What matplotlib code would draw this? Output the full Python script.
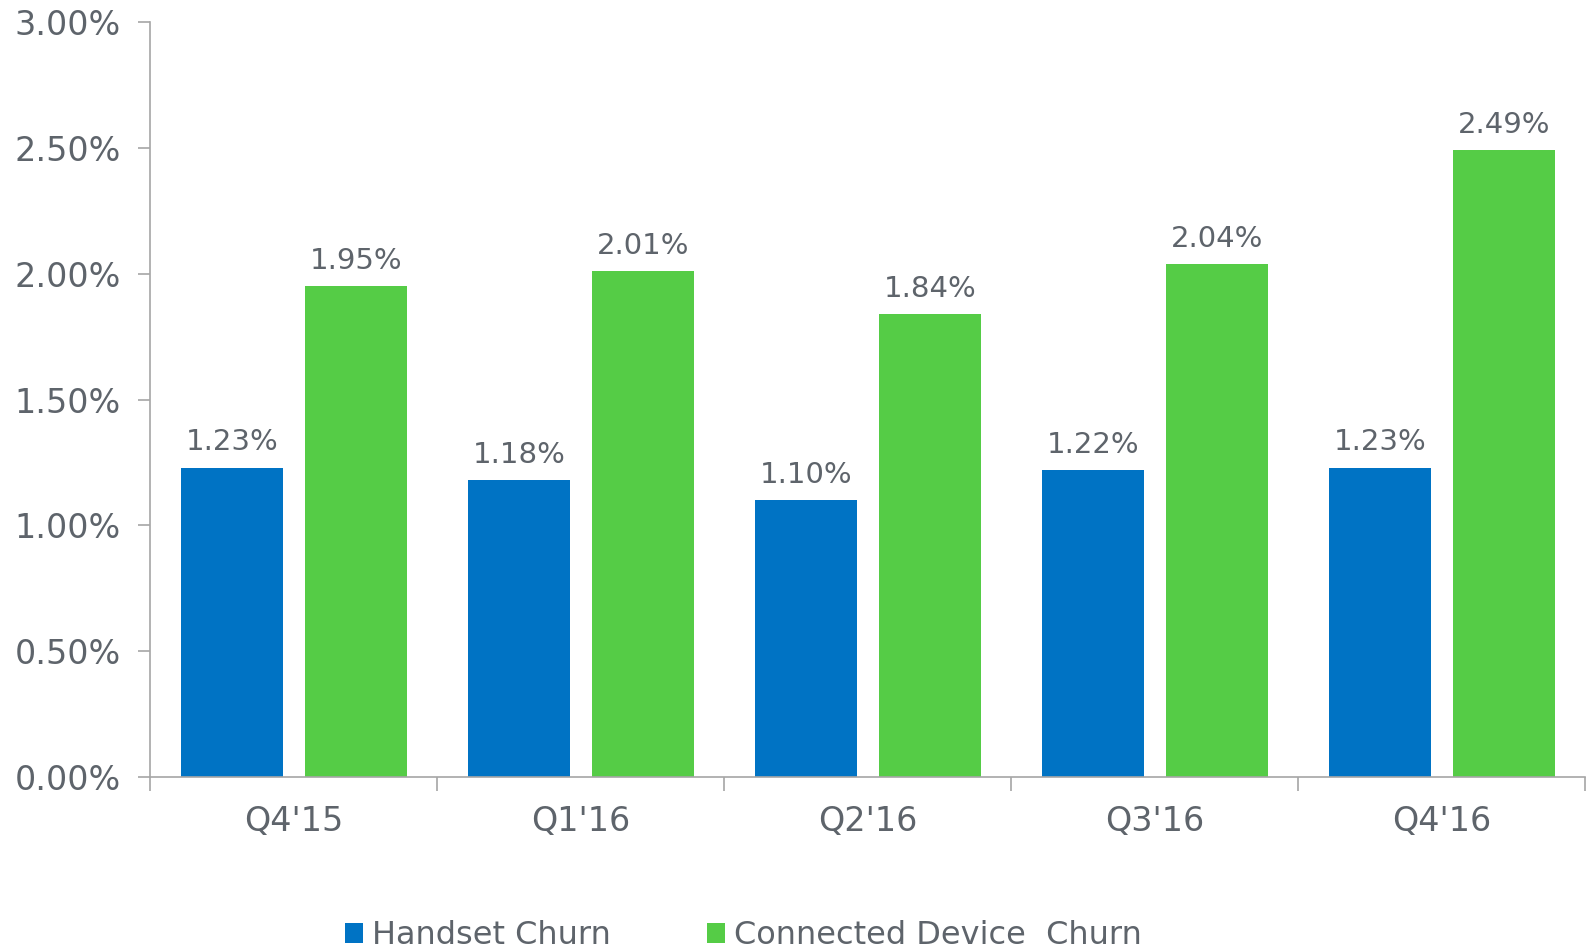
import matplotlib.pyplot as plt
import numpy as np

quarters = ["Q4'15", "Q1'16", "Q2'16", "Q3'16", "Q4'16"]
handset = [1.23, 1.18, 1.10, 1.22, 1.23]
connected = [1.95, 2.01, 1.84, 2.04, 2.49]
yticks = [0.0, 0.5, 1.0, 1.5, 2.0, 2.5, 3.0]

blue = "#0073C4"
green = "#55CC46"
txt = "#5E646B"
axc = "#A6A6A6"

fig = plt.figure(figsize=(15.89, 9.49), dpi=100)
ax = fig.add_axes([0.0944, 0.181, 0.9031, 0.7958])

x = np.arange(len(quarters))
w = 0.355
b1 = ax.bar(x - 0.213, handset, w, color=blue, label="Handset Churn")
b2 = ax.bar(x + 0.217, connected, w, color=green, label="Connected Device  Churn")

for bars, vals in ((b1, handset), (b2, connected)):
    for r, v in zip(bars, vals):
        ax.annotate(f"{v:.2f}%", (r.get_x() + r.get_width() / 2, v),
                    xytext=(0, 8), textcoords="offset points",
                    ha="center", va="bottom", fontsize=21, color=txt)

ax.set_xlim(-0.5, 4.5)
ax.set_ylim(0, 3.0)
ax.set_yticks(yticks)
ax.set_yticklabels([f"{t:.2f}%" for t in yticks])
ax.set_xticks(x)
ax.set_xticklabels(quarters)
ax.set_xticks(np.arange(-0.5, 5, 1), minor=True)
ax.tick_params(axis="x", which="major", length=0, pad=20, labelsize=24, labelcolor=txt)
ax.tick_params(axis="x", which="minor", length=10, width=1.2, color=axc)
ax.tick_params(axis="y", length=9, width=1.2, color=axc, labelsize=24, labelcolor=txt, pad=12)

for s in ("top", "right"):
    ax.spines[s].set_visible(False)
for s in ("left", "bottom"):
    ax.spines[s].set_color(axc)
    ax.spines[s].set_linewidth(1.2)

fig.legend(handles=[b1, b2], loc="center", bbox_to_anchor=(0.468, 0.014),
           ncol=2, frameon=False, fontsize=23, handlelength=0.55, handleheight=0.55,
           handletextpad=0.3, columnspacing=3.0, labelcolor=txt)

fig.savefig("out.png", dpi=100)
